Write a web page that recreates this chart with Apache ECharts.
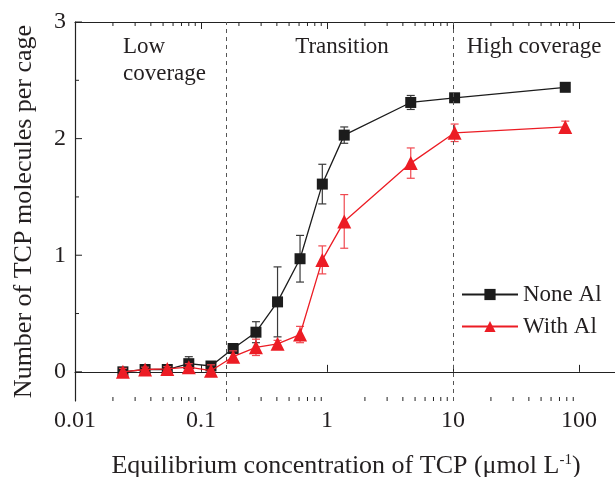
<!DOCTYPE html>
<html>
<head>
<meta charset="utf-8">
<script src="https://cdn.jsdelivr.net/npm/echarts@6/dist/echarts.min.js"></script>
<style>html,body{margin:0;padding:0;background:#fff;}#c{width:615px;height:477px;}</style>
</head>
<body>
<div id="c"></div>
<script>
// ---- data ----
const concentrations = [0.024, 0.036, 0.054, 0.08, 0.12, 0.18, 0.273, 0.405, 0.611, 0.918, 1.37, 4.62, 10.3, 77.8];
const noneAl    = [0.00, 0.02, 0.02, 0.07, 0.05, 0.20, 0.34, 0.60, 0.97, 1.61, 2.03, 2.31, 2.35, 2.44];
const noneAlErr = [0.02, 0.02, 0.02, 0.06, 0.03, 0.03, 0.09, 0.30, 0.20, 0.17, 0.07, 0.06, 0.02, 0.02];
const withAl    = [0.00, 0.02, 0.025, 0.04, 0.01, 0.13, 0.21, 0.24, 0.32, 0.96, 1.29, 1.79, 2.05, 2.10];
const withAlErr = [0.03, 0.02, 0.02, 0.03, 0.05, 0.05, 0.07, 0.03, 0.07, 0.12, 0.23, 0.13, 0.075, 0.05];
const regionBounds = [0.158, 10];
const regionLabels = ['Low\ncoverage', 'Transition', 'High coverage'];
const seriesNames = ['None Al', 'With Al'];
const xMinorTicks = [];
[0.01, 0.1, 1, 10, 100].forEach(function (d) { for (let k = 2; k <= 9; k++) xMinorTicks.push(d * k); });
const yMajorTicks = [0, 1, 2, 3];
const yMinorTicks = [0.5, 1.5, 2.5];
const xTitle = 'Equilibrium concentration of TCP (μmol L';
const xTitleSup = '-1';
const yTitle = 'Number of TCP molecules per cage';

// ---- styling ----
const FONT = 'Liberation Serif';
const TXT = '#231f20';
const BLACK = '#1c1c1c';
const RED = '#ec1c24';

function errData(xs, ys, es) {
  return xs.map(function (x, i) { return [x, ys[i] - es[i], ys[i] + es[i]]; });
}
function errRender(color) {
  return function (params, api) {
    const x = api.value(0);
    const lo = api.coord([x, api.value(1)]);
    const hi = api.coord([x, api.value(2)]);
    const w = 4;
    const st = { stroke: color, lineWidth: 1.2 };
    return { type: 'group', children: [
      { type: 'line', shape: { x1: lo[0], y1: lo[1], x2: hi[0], y2: hi[1] }, style: st },
      { type: 'line', shape: { x1: lo[0] - w, y1: lo[1], x2: lo[0] + w, y2: lo[1] }, style: st },
      { type: 'line', shape: { x1: hi[0] - w, y1: hi[1], x2: hi[0] + w, y2: hi[1] }, style: st }
    ]};
  };
}
function xTickRender(params, api) {
  const cs = params.coordSys;
  const x = api.coord([api.value(0), 0])[0];
  const b = cs.y + cs.height, t = cs.y, L = 4;
  const st = { stroke: '#222', lineWidth: 1 };
  return { type: 'group', children: [
    { type: 'line', shape: { x1: x, y1: b, x2: x, y2: b - L }, style: st },
    { type: 'line', shape: { x1: x, y1: t, x2: x, y2: t + L }, style: st }
  ]};
}
function yTickRender(L) {
  return function (params, api) {
    const cs = params.coordSys;
    const y = api.coord([1, api.value(1)])[1];
    return { type: 'line', shape: { x1: cs.x, y1: y, x2: cs.x + L, y2: y }, style: { stroke: '#222', lineWidth: 1 } };
  };
}

const chart = echarts.init(document.getElementById('c'), null, { renderer: 'canvas' });
chart.setOption({
  animation: false,
  backgroundColor: '#fff',
  textStyle: { fontFamily: FONT },
  grid: { left: 75, top: 22, width: 630, bottom: 76, containLabel: false, outerBoundsMode: 'none' },
  xAxis: [{
    type: 'log', logBase: 10, min: 0.01, max: 1000, position: 'bottom',
    axisLine: { show: true, lineStyle: { color: '#222', width: 1.2 } },
    axisTick: { show: true, inside: true, length: 7, lineStyle: { color: '#222' } },
    axisLabel: { fontFamily: FONT, fontSize: 24, color: TXT, margin: 8,
      formatter: function (v) { return String(+v.toPrecision(3)); } },
    splitLine: { show: false }
  }, {
    type: 'log', logBase: 10, min: 0.01, max: 1000, position: 'top',
    axisLine: { show: true, lineStyle: { color: '#222', width: 1.2 } },
    axisTick: { show: true, inside: true, length: 7, lineStyle: { color: '#222' } },
    axisLabel: { show: false },
    splitLine: { show: false }
  }],
  yAxis: [{
    type: 'value', min: -0.25, max: 3, interval: 0.25,
    name: yTitle, nameLocation: 'middle', nameGap: 38, nameRotate: 90,
    nameTextStyle: { fontFamily: FONT, fontSize: 26, color: TXT },
    axisLine: { show: true, lineStyle: { color: '#222', width: 1.2 } },
    axisTick: { show: false },
    axisLabel: { fontFamily: FONT, fontSize: 24, color: TXT, margin: 9,
      formatter: function (v) { return yMajorTicks.indexOf(v) >= 0 ? String(v) : ''; } },
    splitLine: { show: false }
  }],
  legend: {
    data: seriesNames, orient: 'vertical', left: 456, top: 278,
    itemWidth: 56, itemHeight: 14, itemGap: 9,
    textStyle: { fontFamily: FONT, fontSize: 23, color: TXT }
  },
  graphic: [
    { type: 'text', left: 123, top: 33, style: { text: regionLabels[0], font: '23px "Liberation Serif"', fill: TXT, lineHeight: 27 } },
    { type: 'text', x: 342, y: 47, style: { text: regionLabels[1], font: '23px "Liberation Serif"', fill: TXT, align: 'center', verticalAlign: 'middle' } },
    { type: 'text', x: 534, y: 47, style: { text: regionLabels[2], font: '23px "Liberation Serif"', fill: TXT, align: 'center', verticalAlign: 'middle' } },
    { type: 'text', x: 346, y: 466, style: {
        text: '{a|' + xTitle + '}{s|' + xTitleSup + '}{a|)}', align: 'center', verticalAlign: 'middle',
        rich: { a: { fontFamily: FONT, fontSize: 26, fill: TXT, color: TXT },
                s: { fontFamily: FONT, fontSize: 15, fill: TXT, color: TXT, verticalAlign: 'top', padding: [0, 0, 12, 0] } } } }
  ],
  series: [
    { type: 'custom', name: 'xminor', silent: true, renderItem: xTickRender,
      data: xMinorTicks.map(function (v) { return [v, 0]; }), z: 1 },
    { type: 'custom', name: 'ymajor', silent: true, renderItem: yTickRender(7),
      data: yMajorTicks.map(function (v) { return [1, v]; }), z: 1 },
    { type: 'custom', name: 'yminor', silent: true, renderItem: yTickRender(4),
      data: yMinorTicks.map(function (v) { return [1, v]; }), z: 1 },
    { type: 'line', name: 'bounds', data: [], silent: true,
      markLine: { silent: true, symbol: 'none', label: { show: false },
        lineStyle: { type: [4, 4], color: '#555', width: 1 },
        data: regionBounds.map(function (b) { return { xAxis: b }; }) } },
    { type: 'custom', name: 'errNone', silent: true, renderItem: errRender('#3a3a3a'),
      data: errData(concentrations, noneAl, noneAlErr), z: 2 },
    { type: 'line', name: seriesNames[0], data: concentrations.map(function (x, i) { return [x, noneAl[i]]; }),
      symbol: 'rect', symbolSize: 11, color: BLACK, itemStyle: { color: BLACK },
      lineStyle: { color: BLACK, width: 1.3 }, z: 3 },
    { type: 'custom', name: 'errWith', silent: true, renderItem: errRender('#f04850'),
      data: errData(concentrations, withAl, withAlErr), z: 4 },
    { type: 'line', name: seriesNames[1], data: concentrations.map(function (x, i) { return [x, withAl[i]]; }),
      symbol: 'triangle', symbolSize: 14, color: RED, itemStyle: { color: RED },
      lineStyle: { color: RED, width: 1.3 }, z: 5 }
  ]
});
</script>
</body>
</html>
